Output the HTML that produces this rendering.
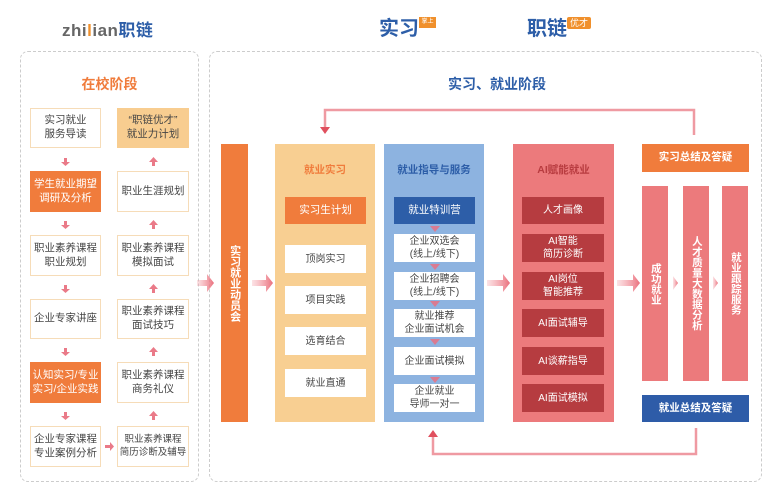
<!DOCTYPE html>
<html><head><meta charset="utf-8"><style>
*{margin:0;padding:0;box-sizing:border-box}
body{width:782px;height:496px;background:#fff;position:relative;overflow:hidden;font-family:"Liberation Sans","Noto Sans CJK SC",sans-serif}
.a{position:absolute}
.c{position:absolute;display:flex;align-items:center;justify-content:center;text-align:center;line-height:1.3}
.wb{background:#fff;border:1px solid #f6dcb8;color:#444;font-size:10.5px}
.ob{background:#f07c3c;color:#fff;font-size:10.5px}
.vt{writing-mode:vertical-rl;letter-spacing:0px;color:#fff;font-weight:bold;font-size:11px}
.w2{background:#fff;color:#444;font-size:10px}
.rb{background:#b63c40;color:#fff;font-size:10px}
.dn{position:absolute;width:0;height:0;border-left:5px solid transparent;border-right:5px solid transparent;border-top:6px solid #d97b92}
</style></head><body>
<!-- logos -->
<div class="a" style="left:62px;top:16px;font-size:17px;font-weight:bold;color:#666;letter-spacing:0.5px">zhi<span style="color:#f0902c">l</span>ian<span style="color:#2d5ea8">职链</span></div>
<div class="a" style="left:379px;top:12px;font-size:20px;font-weight:bold;color:#2d5ea8">实习</div>
<div class="a" style="left:419px;top:17px;width:17px;height:11px;background:#f0902c;color:#fff;font-size:6px;line-height:11px;text-align:center">掌上通</div>
<div class="a" style="left:527px;top:12px;font-size:20px;font-weight:bold;color:#2d5ea8">职链</div>
<div class="a" style="left:567px;top:17px;width:24px;height:12px;background:#f0902c;color:#fff;font-size:9px;line-height:12px;text-align:center;border-radius:2px">优才</div>
<!-- dashed boxes -->
<div class="a" style="left:20px;top:51px;width:179px;height:431px;border:1.5px dashed #ccc;border-radius:8px"></div>
<div class="a" style="left:209px;top:51px;width:553px;height:431px;border:1.5px dashed #ccc;border-radius:8px"></div>
<div class="a" style="left:20px;top:74px;width:179px;text-align:center;font-size:14px;font-weight:bold;color:#f07c3c">在校阶段</div>
<div class="a" style="left:447px;top:74px;width:100px;text-align:center;font-size:14px;font-weight:bold;color:#2d5ea8;white-space:nowrap">实习、就业阶段</div>
<!-- left col -->
<div class="c wb" style="left:30px;top:108px;width:71px;height:40px">实习就业<br>服务导读</div>
<div class="c ob" style="left:30px;top:171px;width:71px;height:41px">学生就业期望<br>调研及分析</div>
<div class="c wb" style="left:30px;top:235px;width:71px;height:41px">职业素养课程<br>职业规划</div>
<div class="c wb" style="left:30px;top:299px;width:71px;height:40px">企业专家讲座</div>
<div class="c ob" style="left:30px;top:362px;width:71px;height:41px">认知实习/专业<br>实习/企业实践</div>
<div class="c wb" style="left:30px;top:426px;width:71px;height:41px">企业专家课程<br>专业案例分析</div>
<div class="c wb" style="left:117px;top:108px;width:72px;height:40px;background:#f8cd90;border-color:#f8cd90">“职链优才”<br>就业力计划</div>
<div class="c wb" style="left:117px;top:171px;width:72px;height:41px">职业生涯规划</div>
<div class="c wb" style="left:117px;top:235px;width:72px;height:41px">职业素养课程<br>模拟面试</div>
<div class="c wb" style="left:117px;top:299px;width:72px;height:40px">职业素养课程<br>面试技巧</div>
<div class="c wb" style="left:117px;top:362px;width:72px;height:41px">职业素养课程<br>商务礼仪</div>
<div class="c wb" style="left:117px;top:426px;width:72px;height:41px;font-size:9.5px;white-space:nowrap">职业素养课程<br>简历诊断及辅导</div>
<svg class="a" style="left:0;top:0" width="782" height="496">
<defs><linearGradient id="g" x1="0" x2="1"><stop offset="0" stop-color="#f4a0a8" stop-opacity="0.3"/><stop offset="1" stop-color="#ea6f7c"/></linearGradient></defs>
<g fill="#ea7a88">
<path d="M64 158h3v4h3l-4.5 4-4.5-4h3z"/><path d="M64 221h3v4h3l-4.5 4-4.5-4h3z"/><path d="M64 285h3v4h3l-4.5 4-4.5-4h3z"/><path d="M64 348h3v4h3l-4.5 4-4.5-4h3z"/><path d="M64 412h3v4h3l-4.5 4-4.5-4h3z"/>
<path d="M152 166h3v-4h3l-4.5-5-4.5 5h3z"/><path d="M152 229h3v-4h3l-4.5-5-4.5 5h3z"/><path d="M152 293h3v-4h3l-4.5-5-4.5 5h3z"/><path d="M152 356h3v-4h3l-4.5-5-4.5 5h3z"/><path d="M152 420h3v-4h3l-4.5-5-4.5 5h3z"/>
<path d="M105 445h5v-3l4 4.5-4 4.5v-3h-5z"/>
</g>
<g fill="url(#g)">
<path d="M197 280h10v-6l7 9-7 9v-6h-10z"/>
<path d="M252 280h14v-6l7 9-7 9v-6h-14z"/>
<path d="M487 280h16v-6l7 9-7 9v-6h-16z"/>
<path d="M617 280h16v-6l7 9-7 9v-6h-16z"/>
<path d="M673 276l5 7-5 7z"/><path d="M713 276l5 7-5 7z"/>
</g>
<g stroke="#ef9aa2" stroke-width="2.5" fill="none">
<path d="M694 135V110H325v18"/>
<path d="M696 428v26H433v-18"/>
</g>
<path d="M320 127h10l-5 7z" fill="#e0505e"/>
<path d="M428 437h10l-5-7z" fill="#e0505e"/>
</svg>
<div class="c vt" style="left:221px;top:144px;width:27px;height:278px;background:#f07c3c">实习就业动员会</div>
<div class="a" style="left:275px;top:144px;width:100px;height:278px;background:#f8cf92"></div>
<div class="c" style="left:275px;top:163px;width:100px;height:16px;color:#f07c3c;font-weight:bold;font-size:10.5px">就业实习</div>
<div class="c ob" style="left:285px;top:197px;width:81px;height:27px">实习生计划</div>
<div class="c w2" style="left:285px;top:245px;width:81px;height:28px">顶岗实习</div>
<div class="c w2" style="left:285px;top:286px;width:81px;height:28px">项目实践</div>
<div class="c w2" style="left:285px;top:327px;width:81px;height:28px">选育结合</div>
<div class="c w2" style="left:285px;top:369px;width:81px;height:28px">就业直通</div>
<div class="a" style="left:384px;top:144px;width:100px;height:278px;background:#8db3e0"></div>
<div class="c" style="left:384px;top:163px;width:100px;height:16px;color:#2d5ea8;font-weight:bold;font-size:10.5px">就业指导与服务</div>
<div class="c" style="left:394px;top:197px;width:81px;height:27px;background:#2d5ea8;color:#fff;font-size:10.5px">就业特训营</div>
<div class="dn" style="left:430px;top:226px"></div>
<div class="c w2" style="left:394px;top:234px;width:81px;height:28px">企业双选会<br>(线上/线下)</div>
<div class="dn" style="left:430px;top:264px"></div>
<div class="c w2" style="left:394px;top:272px;width:81px;height:28px">企业招聘会<br>(线上/线下)</div>
<div class="dn" style="left:430px;top:301px"></div>
<div class="c w2" style="left:394px;top:309px;width:81px;height:28px">就业推荐<br>企业面试机会</div>
<div class="dn" style="left:430px;top:339px"></div>
<div class="c w2" style="left:394px;top:347px;width:81px;height:28px">企业面试模拟</div>
<div class="dn" style="left:430px;top:377px"></div>
<div class="c w2" style="left:394px;top:384px;width:81px;height:28px">企业就业<br>导师一对一</div>
<div class="a" style="left:513px;top:144px;width:101px;height:278px;background:#ec7a7c"></div>
<div class="c" style="left:513px;top:163px;width:101px;height:16px;color:#b83c40;font-weight:bold;font-size:10.5px">AI赋能就业</div>
<div class="c rb" style="left:522px;top:197px;width:82px;height:27px">人才画像</div>
<div class="c rb" style="left:522px;top:234px;width:82px;height:28px">AI智能<br>简历诊断</div>
<div class="c rb" style="left:522px;top:272px;width:82px;height:28px">AI岗位<br>智能推荐</div>
<div class="c rb" style="left:522px;top:309px;width:82px;height:28px">AI面试辅导</div>
<div class="c rb" style="left:522px;top:347px;width:82px;height:28px">AI谈薪指导</div>
<div class="c rb" style="left:522px;top:384px;width:82px;height:28px">AI面试模拟</div>
<div class="c" style="left:642px;top:144px;width:107px;height:28px;background:#f07c3c;color:#fff;font-weight:bold;font-size:10.5px">实习总结及答疑</div>
<div class="c vt" style="left:642px;top:186px;width:26px;height:195px;background:#ec7a7c;font-size:10.5px">成功就业</div>
<div class="c vt" style="left:683px;top:186px;width:26px;height:195px;background:#ec7a7c;font-size:10.5px">人才质量大数据分析</div>
<div class="c vt" style="left:722px;top:186px;width:26px;height:195px;background:#ec7a7c;font-size:10.5px">就业跟踪服务</div>
<div class="c" style="left:642px;top:395px;width:107px;height:27px;background:#2e5ca8;color:#fff;font-weight:bold;font-size:10.5px">就业总结及答疑</div>
</body></html>
